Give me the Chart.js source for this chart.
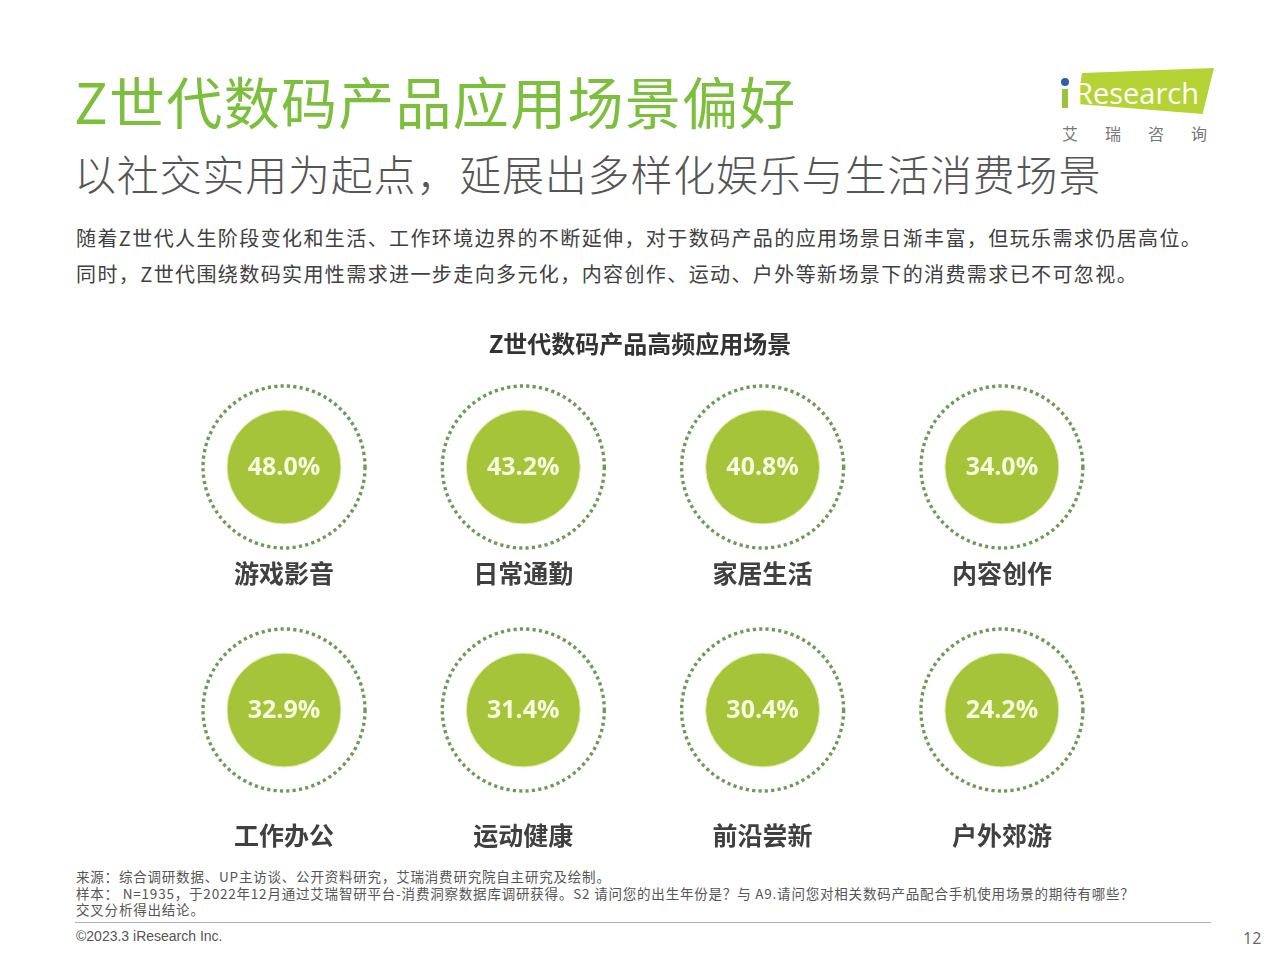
<!DOCTYPE html>
<html>
<head>
<meta charset="utf-8">
<script src="https://cdn.jsdelivr.net/npm/chart.js@4.4.0/dist/chart.umd.min.js"></script>
<style>
  html, body { margin: 0; padding: 0; background: #fff; }
  body { width: 1280px; height: 960px; position: relative; overflow: hidden;
         font-family: "Noto Sans CJK SC", "Noto Sans", sans-serif; }
  .abs { position: absolute; white-space: nowrap; }
  #title { left: 74px; top: 70px; font-size: 56px; line-height: 60px; color: #7cbf3d; font-weight: 400; letter-spacing: 1.3px; }
  #subtitle { left: 74px; top: 150px; font-size: 42px; line-height: 46px; color: #555; font-weight: 300; letter-spacing: 0.8px; }
  .body { left: 76px; font-size: 20px; line-height: 24px; color: #404040; letter-spacing: 1.4px; }
  #notes { left: 76px; top: 868px; font-size: 13.5px; line-height: 16.5px; color: #555; letter-spacing: 0.8px; }
  #rule { left: 75px; top: 922px; width: 1136px; height: 1px; background: #b0b0b0; }
  #copy { left: 76px; top: 927px; font-size: 14px; line-height: 18px; color: #555; font-family: "Liberation Sans Narrow", "Liberation Sans", sans-serif; }
  #page { left: 1243px; top: 928px; font-size: 16px; line-height: 20px; color: #666; font-family: "Open Sans", sans-serif; }
  #logoBox { left: 1072px; top: 68px; width: 142px; height: 50px; background: #b5d334;
             clip-path: polygon(7% 10%, 100% 0%, 92% 92%, 4% 72%); }
  #logoText { left: 1075px; top: 76px; font-size: 29px; line-height: 34px; color: #fff; font-family: "Open Sans", sans-serif; }
  #logoI { left: 1062px; top: 89px; width: 6px; height: 19px; background: #9cc23a; }
  #logoDot { left: 1061px; top: 78px; width: 8px; height: 8px; border-radius: 50%; background: #2f5fa8; }
  #logoCn { left: 1062px; top: 123px; font-size: 16px; line-height: 20px; color: #777; letter-spacing: 27px; }
  #wrap { position: absolute; left: 0; top: 325px; width: 1280px; height: 540px; }
</style>
</head>
<body>
<div class="abs" id="title">Z世代数码产品应用场景偏好</div>
<div class="abs" id="subtitle">以社交实用为起点，延展出多样化娱乐与生活消费场景</div>
<div class="abs body" style="top:226px">随着Z世代人生阶段变化和生活、工作环境边界的不断延伸，对于数码产品的应用场景日渐丰富，但玩乐需求仍居高位。</div>
<div class="abs body" style="top:262px">同时，Z世代围绕数码实用性需求进一步走向多元化，内容创作、运动、户外等新场景下的消费需求已不可忽视。</div>

<div class="abs" id="logoBox"></div>
<div class="abs" id="logoI"></div>
<div class="abs" id="logoDot"></div>
<div class="abs" id="logoText">Research</div>
<div class="abs" id="logoCn">艾瑞咨询</div>

<div id="wrap"><canvas id="chart-scenes"></canvas></div>

<div class="abs" id="notes">来源：综合调研数据、UP主访谈、公开资料研究，艾瑞消费研究院自主研究及绘制。<br>样本： N=1935，于2022年12月通过艾瑞智研平台-消费洞察数据库调研获得。S2 请问您的出生年份是？与 A9.请问您对相关数码产品配合手机使用场景的期待有哪些？<br>交叉分析得出结论。</div>
<div class="abs" id="rule"></div>
<div class="abs" id="copy">©2023.3 iResearch Inc.</div>
<div class="abs" id="page">12</div>

<script>
// data
const scenes = ['游戏影音', '日常通勤', '家居生活', '内容创作', '工作办公', '运动健康', '前沿尝新', '户外郊游'];
const shares = [48.0, 43.2, 40.8, 34.0, 32.9, 31.4, 30.4, 24.2];
const perRow = 4;

const diskRadius = 57;
const ringRadius = 81;
const labelOffset = [106, 125];

function createPoints(r) {
    const points = [];
    for (let i = 0; i < shares.length; i++) {
        points.push({ x: i % perRow, y: Math.floor(i / perRow), r, v: shares[i], name: scenes[i] });
    }
    return points;
}

// dotted rings are drawn by the ring dataset with a dash pattern
const dashPlugin = {
    id: 'ringDash',
    beforeDatasetDraw(chart, args) {
        if (args.index === 1) {
            chart.ctx.save();
            chart.ctx.setLineDash([3.2, 3.2]);
            chart.ctx.lineCap = 'butt';
        }
    },
    afterDatasetDraw(chart, args) {
        if (args.index === 1) {
            chart.ctx.restore();
        }
    }
};

const labelPlugin = {
    id: 'sceneLabels',
    afterDatasetsDraw(chart) {
        const ctx = chart.ctx;
        const meta = chart.getDatasetMeta(0);
        ctx.save();
        ctx.textAlign = 'center';
        ctx.textBaseline = 'middle';
        meta.data.forEach((el, i) => {
            const raw = chart.data.datasets[0].data[i];
            ctx.fillStyle = '#f6fadf';
            ctx.font = 'bold 25px "Open Sans", sans-serif';
            ctx.fillText(raw.v.toFixed(1) + '%', el.x, el.y + 1);
            ctx.fillStyle = '#404040';
            ctx.font = 'bold 25px "Noto Sans CJK SC", sans-serif';
            ctx.fillText(raw.name, el.x, el.y + labelOffset[raw.y]);
        });
        ctx.restore();
    }
};

// map column/row indices onto page pixels
const colStart = 284, colStep = 239.3;
const rowStart = 109.2, rowStep = 243, areaH = 507.2;

const ctxEl = document.getElementById('chart-scenes');
const chart = new Chart(ctxEl, {
    type: 'bubble',
    data: {
        datasets: [
            {
                label: 'share',
                data: createPoints(diskRadius),
                backgroundColor: '#a6c439',
                borderColor: '#e4efb0',
                borderWidth: 1,
                clip: false,
            },
            {
                label: 'ring',
                data: createPoints(ringRadius),
                backgroundColor: 'rgba(0,0,0,0)',
                borderColor: '#6f9a55',
                borderWidth: 3.4,
                clip: false,
            }
        ]
    },
    options: {
        responsive: true,
        maintainAspectRatio: false,
        animation: false,
        events: [],
        layout: { padding: 0, autoPadding: false },
        plugins: {
            legend: { display: false },
            tooltip: { enabled: false },
            title: {
                display: true,
                text: 'Z世代数码产品高频应用场景',
                color: '#333',
                font: { family: '"Noto Sans CJK SC", sans-serif', size: 24, weight: 'bold' },
                padding: { top: 4, bottom: 0 }
            }
        },
        scales: {
            x: {
                type: 'linear', display: false,
                min: -colStart / colStep,
                max: (1280 - colStart) / colStep
            },
            y: {
                type: 'linear', display: false, reverse: true,
                min: -rowStart / rowStep,
                max: (areaH - rowStart) / rowStep
            }
        }
    },
    plugins: [dashPlugin, labelPlugin]
});
</script>
</body>
</html>
